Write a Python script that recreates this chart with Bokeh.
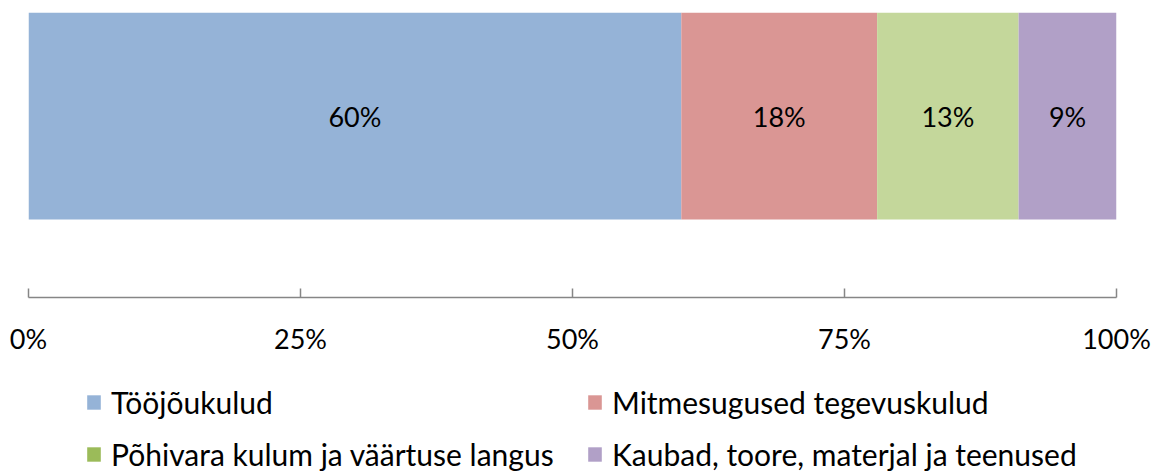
from bokeh.plotting import figure
from bokeh.layouts import column
from bokeh.models import Range1d, FixedTicker, PrintfTickFormatter, Legend, LegendItem, ColumnDataSource
from bokeh.core.properties import value
from bokeh.embed import file_html
from bokeh.resources import INLINE

categories = ["Tööjõukulud", "Mitmesugused tegevuskulud",
              "Põhivara kulum ja väärtuse langus", "Kaubad, toore, materjal ja teenused"]
values = [60, 18, 13, 9]
bar_colors = ["#95B3D7", "#DA9694", "#C4D79B", "#B1A0C7"]
legend_colors = ["#95B3D7", "#DA9694", "#9BBB59", "#B1A0C7"]
tick_values = [0, 25, 50, 75, 100]

FONT = "Lato"

lefts, rights = [], []
acc = 0
for v in values:
    lefts.append(acc)
    acc += v
    rights.append(acc)

p = figure(width=1158, height=370, output_backend="svg", toolbar_location=None,
           x_range=Range1d(0, 100), y_range=Range1d(0, 1), y_axis_location=None,
           min_border_left=28, min_border_right=42, min_border_top=12, min_border_bottom=73)
p.outline_line_color = None
p.xgrid.visible = False
p.ygrid.visible = False

src = ColumnDataSource(dict(left=lefts, right=rights, color=bar_colors,
                            mid=[(l + r) / 2 for l, r in zip(lefts, rights)],
                            label=[f"{v}%" for v in values]))
p.quad(left="left", right="right", bottom=0.2737, top=1.0, fill_color="color",
       line_color=None, source=src)
p.text(x="mid", y=0.635, text="label", source=src, text_align="center", text_baseline="middle",
       text_font=value(FONT), text_font_size="27px", text_color="black")

ax = p.xaxis[0]
ax.ticker = FixedTicker(ticks=tick_values)
ax.formatter = PrintfTickFormatter(format="%d%%")
ax.minor_tick_line_color = None
ax.major_tick_in = 9
ax.major_tick_out = 0
ax.axis_line_color = "#868686"
ax.major_tick_line_color = "#868686"
ax.axis_line_width = 1.5
ax.major_tick_line_width = 1.5
ax.major_label_text_font = FONT
ax.major_label_text_font_size = "27px"
ax.major_label_text_color = "black"
ax.major_label_standoff = 24

# legend figure
q = figure(width=1158, height=103, output_backend="svg", toolbar_location=None,
           x_range=Range1d(0, 1), y_range=Range1d(0, 1),
           x_axis_location=None, y_axis_location=None,
           min_border_left=0, min_border_right=0, min_border_top=0, min_border_bottom=0)
q.outline_line_color = None
q.grid.visible = False

rs = []
for c in legend_colors:
    r = q.quad(left=[-10], right=[-9], bottom=[-10], top=[-9], fill_color=c, line_color=None)
    rs.append(r)

def make_legend(idx, x, y):
    lg = Legend(items=[LegendItem(label=categories[i], renderers=[rs[i]]) for i in idx],
                location=(x, y), orientation="vertical",
                glyph_width=17, glyph_height=18, label_standoff=9, spacing=16,
                padding=0, margin=0, border_line_color=None, background_fill_alpha=0,
                label_text_font=FONT, label_text_font_size="30px", label_text_color="black",
                label_height=36)
    q.add_layout(lg, "center")

make_legend([0, 2], 57, 1)
make_legend([1, 3], 558, 1)

layout = column(p, q, spacing=0)
open("out.html", "w").write(file_html(layout, INLINE))
